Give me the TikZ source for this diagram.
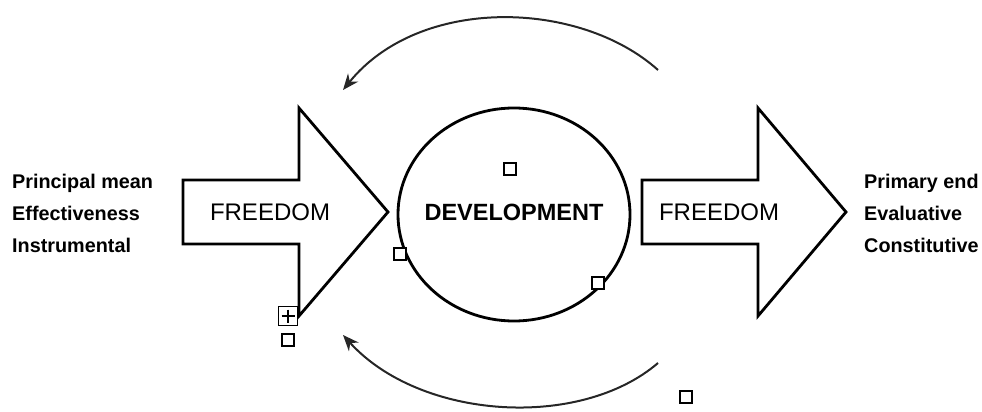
\documentclass[tikz,border=0pt]{standalone}
\usepackage{fontspec}
\setmainfont{Liberation Sans}
\usetikzlibrary{shapes.geometric,arrows.meta,positioning,calc}

\tikzset{
  bigarrow/.style={draw, line width=2.8pt, line join=miter, fill=white},
  handle/.style={draw, rectangle, fill=white, line width=1.5pt, minimum size=12pt, inner sep=0pt},
  cyclearc/.style={line width=2pt, draw=black!85, -{Stealth[length=16pt,width=13pt]}},
  sidetext/.style={font=\bfseries\fontsize{19.8}{19.8}\selectfont, anchor=base west, inner sep=0pt}
}

\begin{document}
\begin{tikzpicture}[x=1pt,y=-1pt]
    \useasboundingbox (0,0) rectangle (982,412);

    % Left arrow
    \draw[bigarrow] (183,180) -- (299,180) -- (299,108) -- (388,212) -- (299,316) -- (299,244) -- (183,244) -- cycle;
    \node[font=\fontsize{24}{24}\selectfont] (freeL) at (270,212) {FREEDOM};

    % Development circle
    \node[draw,ellipse,line width=2.8pt,minimum width=232pt,minimum height=213pt,inner sep=0pt] (dev) at (514,214.5) {};
    \node[font=\bfseries\fontsize{23.5}{23.5}\selectfont] (devtext) at (514,212) {DEVELOPMENT};

    % Right arrow
    \draw[bigarrow] (642,180) -- (758,180) -- (758,108) -- (846,212) -- (758,316) -- (758,244) -- (642,244) -- cycle;
    \node[font=\fontsize{24}{24}\selectfont] (freeR) at (719,212) {FREEDOM};

    % Left labels
    \node[sidetext] (mean) at (12,188) {Principal mean};
    \node[sidetext] (effect) at (12,220) {Effectiveness};
    \node[sidetext] (instr) at (12,252) {Instrumental};

    % Right labels
    \node[sidetext] (prim) at (864,188) {Primary end};
    \node[sidetext] (eval) at (864,220) {Evaluative};
    \node[sidetext] (const) at (864,252) {Constitutive};

    % Cycle arcs
    \coordinate (topA) at (658,70);
    \coordinate (topB) at (343,90);
    \draw[cyclearc] (topA) .. controls (580,0) and (420,-5) .. (topB);
    \coordinate (botA) at (658,363);
    \coordinate (botB) at (343,335);
    \draw[cyclearc] (botA) .. controls (580,430) and (420,420) .. (botB);

    % Selection handles
    \node[handle] (h1) at (510,169) {};
    \node[handle] (h2) at (400,254) {};
    \node[handle] (h3) at (598,283) {};
    \node[handle] (h4) at (288,340) {};
    \node[handle] (h5) at (686,397) {};
    \node[handle,minimum size=19pt] (hplus) at (288,316) {};
    \draw[line width=1.5pt] ($(hplus.center)+(0,-6.5)$) -- ($(hplus.center)+(0,6.5)$);
    \draw[line width=1.5pt] ($(hplus.center)+(-6.5,0)$) -- ($(hplus.center)+(6.5,0)$);
\end{tikzpicture}
\end{document}
